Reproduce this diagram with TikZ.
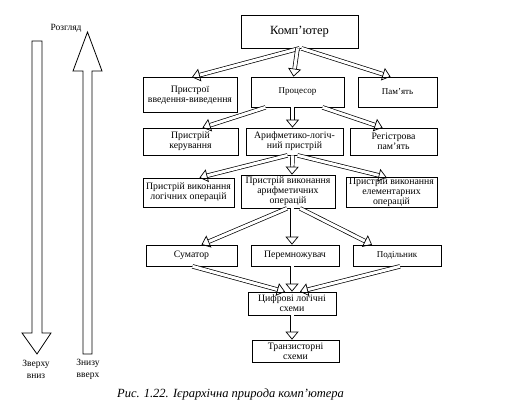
\documentclass[tikz,border=0pt]{standalone}
\usepackage{fontspec}
\setmainfont{Liberation Serif}
\usetikzlibrary{arrows.meta}

\tikzset{
  blk/.style={draw, line width=0.7pt, inner sep=0.5pt, align=center, font=\fontsize{9.8}{10}\selectfont},
  hol/.style={double=white, double distance=3pt, line width=0.7pt, -{Triangle[open, length=8pt, width=13pt]}},
  big/.style={draw, line width=0.8pt, fill=white},
  lbl/.style={align=center, font=\fontsize{9.5}{12}\selectfont},
}

\begin{document}
\begin{tikzpicture}[x=1pt, y=-1pt]
  \useasboundingbox (0,0) rectangle (508,416);

  % Left arrows: view direction
  \draw[big] (32,41) -- (42,41) -- (42,333) -- (51,333) -- (37,354) -- (22,333) -- (32,333) -- cycle;
  \draw[big] (83,354) -- (92,354) -- (92,71) -- (102,71) -- (87.5,32) -- (73,71) -- (83,71) -- cycle;
  \node[lbl] (view) at (66,28) {Розгляд};
  \node[lbl] (down) at (36,369) {Зверху\\вниз};
  \node[lbl] (up) at (88,369) {Знизу\\вверх};

  % Levels of the hierarchy
  \node[blk, minimum width=117pt, minimum height=33pt, font=\fontsize{12.5}{13}\selectfont] (cmp) at (299.5,31.5) {Комп’ютер};

  \node[blk, minimum width=94pt, minimum height=35pt] (io) at (190,95) {Пристрої\\введення-виведення};
  \node[blk, minimum width=93pt, minimum height=30pt, font=\fontsize{9}{10}\selectfont] (cpu) at (297.5,92) {Процесор};
  \node[blk, minimum width=79pt, minimum height=30pt, font=\fontsize{9}{10}\selectfont] (mem) at (397.5,92) {Пам’ять};

  \node[blk, minimum width=95pt, minimum height=27pt] (ctl) at (190.5,141.5) {Пристрій\\керування};
  \node[blk, minimum width=97pt, minimum height=27pt] (alu) at (294.5,141.5) {Арифметико-логіч-\\ний пристрій};
  \node[blk, minimum width=87pt, minimum height=27pt] (reg) at (393.5,141.5) {Регістрова\\пам’ять};

  \node[blk, minimum width=91pt, minimum height=29pt] (lop) at (188.5,192.5) {Пристрій виконання\\логічних операцій};
  \node[blk, minimum width=94pt, minimum height=33pt] (aop) at (288,191.5) {Пристрій виконання\\арифметичних\\операцій};
  \node[blk, minimum width=91pt, minimum height=29pt] (eop) at (391.5,192.5) {Пристрій виконання\\елементарних\\операцій};

  \node[blk, minimum width=91pt, minimum height=21pt] (add) at (191.5,255.5) {Суматор};
  \node[blk, minimum width=88pt, minimum height=21pt] (mul) at (295,255.5) {Перемножувач};
  \node[blk, minimum width=88pt, minimum height=21pt, font=\fontsize{9}{10}\selectfont] (div) at (397,255.5) {Подільник};

  \node[blk, minimum width=88pt, minimum height=23pt] (dig) at (292,303.5) {Цифрові логічні\\схеми};
  \node[blk, minimum width=87pt, minimum height=22pt] (trn) at (295.5,351) {Транзисторні\\схеми};

  % Hollow arrows between levels
  \draw[hol] (cmp.south) -- ([xshift=2pt]io.north);
  \draw[hol] ([xshift=-2pt]cmp.south) -- ([xshift=-4pt]cpu.north);
  \draw[hol] ([xshift=2pt]cmp.south) -- ([xshift=-7pt]mem.north);

  \draw[hol] ([xshift=-32pt]cpu.south) -- ([xshift=12pt]ctl.north);
  \draw[hol] ([xshift=-5pt]cpu.south) -- ([xshift=-2pt]alu.north);
  \draw[hol] ([xshift=25pt]cpu.south) -- ([xshift=-11pt]reg.north);

  \draw[hol] ([xshift=-7pt]alu.south) -- ([xshift=11pt]lop.north);
  \draw[hol] ([xshift=-2pt]alu.south) -- ([xshift=4pt]aop.north);
  \draw[hol] ([xshift=3pt]alu.south) -- ([xshift=-5pt]eop.north);

  \draw[hol] ([xshift=-1pt]aop.south) -- ([xshift=10pt]add.north);
  \draw[hol] ([xshift=4pt]aop.south) -- ([xshift=-3pt]mul.north);
  \draw[hol] ([xshift=12pt]aop.south) -- ([xshift=-25pt]div.north);

  \draw[hol] ([xshift=1pt]add.south) -- ([xshift=-7pt]dig.north);
  \draw[hol] ([xshift=-3pt]mul.south) -- (dig.north);
  \draw[hol] ([xshift=3pt]div.south) -- ([xshift=8pt]dig.north);

  \draw[hol] (dig.south) -- ([xshift=-3.5pt]trn.north);

  % Caption
  \node[font=\itshape\fontsize{12.5}{14}\selectfont] (cap) at (230.5,394) {Рис. 1.22. Ієрархічна природа комп’ютера};
\end{tikzpicture}
\end{document}
